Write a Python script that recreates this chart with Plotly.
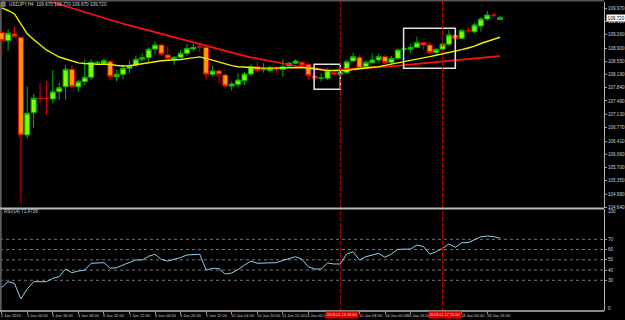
import plotly.graph_objects as go

# ---------------- data ----------------
bar_idx = list(range(79))
opens = [109.316,109.102,109.281,109.193,106.577,107.174,107.559,107.560,107.541,107.736,
         107.870,108.336,107.870,108.004,108.122,108.518,108.497,108.539,108.138,108.202,
         108.363,108.451,108.604,108.647,108.880,108.987,108.719,108.612,108.657,108.765,
         108.880,108.935,108.925,108.202,108.291,108.183,107.889,107.934,108.031,108.210,
         108.406,108.325,108.299,108.340,108.336,108.424,108.497,108.523,108.470,108.157,
         108.100,108.095,108.245,108.202,108.245,108.558,108.657,108.406,108.513,108.585,
         108.674,108.513,108.631,108.874,108.872,108.925,109.048,108.987,108.781,108.872,
         109.006,109.247,109.166,109.372,109.343,109.495,109.683,109.792,109.670]
highs = [109.389,109.407,109.477,109.209,107.870,107.675,107.977,108.023,108.317,107.977,
         108.451,108.451,108.068,108.604,108.604,108.558,108.631,108.585,108.317,108.451,
         108.566,108.692,108.765,108.925,109.094,109.032,108.960,108.692,108.853,109.014,
         109.014,108.987,108.941,108.424,108.317,108.245,108.004,108.229,108.272,108.470,
         108.539,108.497,108.424,108.406,108.604,108.539,108.604,108.558,108.497,108.183,
         108.229,108.363,108.317,108.317,108.585,108.781,108.719,108.585,108.765,108.746,
         108.719,108.692,108.898,108.941,109.014,109.209,109.075,109.067,108.898,109.075,
         109.389,109.281,109.415,109.477,109.584,109.729,109.897,109.836,109.770]
lows = [108.719,108.826,109.193,104.755,106.488,106.756,107.426,107.112,107.426,107.514,
        107.514,107.827,107.736,107.916,108.050,108.478,108.451,108.068,108.004,108.068,
        108.229,108.406,108.539,108.539,108.738,108.692,108.604,108.451,108.631,108.692,
        108.807,108.791,108.050,108.157,107.961,107.854,107.763,107.854,107.916,108.157,
        108.272,108.245,108.245,108.229,108.138,108.363,108.478,108.424,108.068,108.050,
        108.004,108.050,108.183,108.157,108.210,108.539,108.336,108.363,108.497,108.539,
        108.478,108.478,108.585,108.834,108.781,108.898,108.853,108.719,108.746,108.834,
        108.960,109.121,109.140,109.281,109.300,109.343,109.638,109.702,109.670]
closes = [109.102,109.300,109.209,106.577,107.158,107.559,107.550,107.552,107.736,107.843,
          108.336,107.870,108.004,108.122,108.523,108.523,108.566,108.138,108.202,108.363,
          108.432,108.604,108.647,108.871,108.987,108.738,108.631,108.657,108.765,108.898,
          108.925,108.930,108.202,108.291,108.202,107.889,107.942,108.050,108.210,108.406,
          108.299,108.331,108.363,108.336,108.406,108.497,108.558,108.451,108.165,108.103,
          108.106,108.299,108.202,108.245,108.539,108.674,108.363,108.523,108.585,108.674,
          108.513,108.631,108.853,108.880,108.925,109.048,108.987,108.781,108.872,109.014,
          109.254,109.156,109.370,109.368,109.522,109.683,109.790,109.788,109.720]
ma_fast = [109.978,109.911,109.817,109.549,109.287,109.134,109.006,108.853,108.759,108.665,
           108.612,108.553,108.507,108.491,108.473,108.470,108.470,108.467,108.438,108.424,
           108.432,108.462,108.494,108.521,108.548,108.566,108.577,108.582,108.599,108.623,
           108.647,108.668,108.628,108.577,108.526,108.478,108.435,108.403,108.390,108.379,
           108.371,108.366,108.366,108.371,108.376,108.379,108.387,108.384,108.371,108.350,
           108.317,108.299,108.299,108.299,108.304,108.331,108.355,108.376,108.390,108.406,
           108.438,108.467,108.505,108.545,108.577,108.607,108.639,108.674,108.711,108.746,
           108.778,108.807,108.861,108.907,108.955,109.027,109.089,109.134,109.193]
ma_slow = [110.567,110.500,110.446,110.393,110.339,110.286,110.232,110.179,110.125,110.074,
           110.023,109.970,109.916,109.865,109.814,109.763,109.710,109.651,109.603,109.555,
           109.512,109.466,109.421,109.375,109.330,109.281,109.236,109.190,109.142,109.094,
           109.049,109.003,108.955,108.912,108.866,108.824,108.781,108.738,108.695,108.657,
           108.623,108.588,108.556,108.524,108.491,108.454,108.424,108.408,108.387,108.355,
           108.328,108.317,108.317,108.323,108.339,108.355,108.363,108.371,108.382,108.392,
           108.403,108.416,108.430,108.446,108.462,108.478,108.489,108.499,108.516,108.529,
           108.542,108.558,108.577,108.596,108.612,108.633,108.655,108.674,108.692]
rsi = [23.0,28.6,26.9,11.8,21.5,28.6,28.6,28.6,32.0,33.5,
       41.0,37.4,39.0,40.0,46.6,46.9,47.2,41.7,42.3,45.0,
       47.2,49.8,49.8,53.4,55.4,50.3,48.8,50.3,52.2,54.7,
       55.4,55.4,40.0,41.7,41.5,36.1,37.1,40.5,44.9,48.8,
       46.6,46.9,47.1,47.2,49.3,51.3,53.0,50.5,43.0,41.0,
       41.0,46.9,45.9,45.9,55.7,57.9,49.8,53.0,54.7,56.3,
       52.4,55.7,60.2,60.2,60.5,64.4,63.0,55.4,57.9,61.2,
       65.4,62.2,66.7,66.7,69.8,72.5,73.2,72.7,71.0]
rsi_levels = [30, 40, 50, 60, 70]

price_ticks = [104.640,104.990,105.350,105.700,106.060,106.410,106.770,107.130,
               107.490,107.840,108.190,108.550,108.900,109.260,109.610,109.970]
time_tick_idx = [0,4,8,12,16,20,24,28,32,36,40,44,48,52,56,60,64,68,72,76]
time_label_idx = [0,4,8,12,16,20,24,28,32,36,40,44,48,56,60,64,72,76]
time_labels = ["2 Jan 2019","3 Jan 00:00","3 Jan 16:00","4 Jan 08:00","6 Jan 22:00",
               "7 Jan 12:00","8 Jan 04:00","8 Jan 20:00","9 Jan 12:00","10 Jan 04:00",
               "10 Jan 20:00","11 Jan 12:00","14 Jan 00:00","15 Jan 08:00","16 Jan 00:00",
               "16 Jan 16:00","18 Jan 00:00","18 Jan 16:00"]
vline_idx = [53, 69]
vline_labels = ["2019.01.14 20:00", "2019.01.17 12:00"]
# rectangles: (start bar, end bar, top price, bottom price)
rect_x0 = [48.9, 62.9]
rect_x1 = [53.0, 71.0]
rect_top = [108.470, 109.434]
rect_bot = [107.800, 108.363]

title_main = "USDJPY,H4  109.670 109.770 109.670 109.720"
title_rsi = "RSI(14) 71.4738"
last_price = 109.720

FONT = "Liberation Sans"
TXT = "#d0d0d0"
GRAY = "#9a9a9a"

fig = go.Figure()
fig.add_trace(go.Candlestick(
    x=bar_idx, open=opens, high=highs, low=lows, close=closes,
    increasing=dict(line=dict(color="#00b400", width=1), fillcolor="#80ff00"),
    decreasing=dict(line=dict(color="#e00000", width=1), fillcolor="#ff9a00"),
    whiskerwidth=0, xaxis="x", yaxis="y", hoverinfo="skip"))
fig.add_trace(go.Scatter(x=bar_idx, y=ma_slow, mode="lines",
                         line=dict(color="#ff1010", width=1.7), xaxis="x", yaxis="y", hoverinfo="skip"))
fig.add_trace(go.Scatter(x=bar_idx, y=ma_fast, mode="lines",
                         line=dict(color="#f0f000", width=1.4), xaxis="x", yaxis="y", hoverinfo="skip"))
fig.add_trace(go.Scatter(x=bar_idx, y=rsi, mode="lines",
                         line=dict(color="#8fd0f0", width=1), xaxis="x", yaxis="y2", hoverinfo="skip"))

shapes = []
# rsi levels
for lv in rsi_levels:
    shapes.append(dict(type="line", xref="paper", yref="y2", x0=0, x1=1, y0=lv, y1=lv,
                       line=dict(color="#767676", width=1, dash="dot"), layer="below"))
# rectangles
for a, b, t, bt in zip(rect_x0, rect_x1, rect_top, rect_bot):
    shapes.append(dict(type="rect", xref="x", yref="y", x0=a, x1=b, y0=bt, y1=t,
                       line=dict(color="#e4e4e4", width=1.5)))
# vertical red dashed lines
for v in vline_idx:
    shapes.append(dict(type="line", xref="x", yref="paper", x0=v, x1=v, y0=0, y1=1.01,
                       line=dict(color="#cc0000", width=1, dash="4px,2px")))
# frame lines
sep_y = 0.3317
shapes += [
    dict(type="line", xref="paper", yref="paper", x0=0, x1=1, y0=sep_y, y1=sep_y,
         line=dict(color="#b8b8b8", width=2)),
    dict(type="line", xref="paper", yref="paper", x0=0, x1=1, y0=0, y1=0,
         line=dict(color="#b8b8b8", width=1.5)),
    dict(type="line", xref="paper", yref="paper", x0=0, x1=1.0, y0=1.004, y1=1.004,
         line=dict(color="#555555", width=1.5)),
    dict(type="line", xref="paper", yref="paper", x0=0.0012, x1=0.0012, y0=0, y1=1,
         line=dict(color="#5a5a5a", width=2), layer="below"),
    dict(type="rect", xref="paper", yref="paper", x0=0.003, x1=0.0085, y0=0.986, y1=1.0,
         line=dict(color="#bbbbbb", width=0.6), fillcolor="#666666"),
]

ann = []
ann.append(dict(x=0.011, y=0.9935, xref="paper", yref="paper", text=title_main,
                showarrow=False, xanchor="left", yanchor="middle",
                font=dict(family=FONT, size=4.6, color=TXT)))
ann.append(dict(x=0.004, y=0.3205, xref="paper", yref="paper", text=title_rsi,
                showarrow=False, xanchor="left", yanchor="middle",
                font=dict(family=FONT, size=4.6, color=TXT)))
for i, t in zip(time_label_idx, time_labels):
    shift = -4.5 if (i + 5) in vline_idx else -1.5
    ann.append(dict(x=i, y=-0.0145, xref="x", yref="paper", text=t, showarrow=False,
                    xanchor="left", yanchor="middle", xshift=shift, borderpad=0,
                    font=dict(family=FONT, size=4.0, color="#c8c8c8")))
for v, t in zip(vline_idx, vline_labels):
    ann.append(dict(x=v, y=-0.0145, xref="x", yref="paper", text=t, showarrow=False,
                    xanchor="center", yanchor="middle", xshift=2, bgcolor="#d80000",
                    borderpad=0.4, font=dict(family=FONT, size=3.9, color="#ffd8d8")))
ann.append(dict(x=1.0, y=last_price, xref="paper", yref="y", text=f"{last_price:.3f}",
                showarrow=False, xanchor="left", yanchor="middle", xshift=2, bgcolor="#ffffff",
                borderpad=0.6, font=dict(family=FONT, size=4.6, color="#000000")))
ann.append(dict(x=1.0, y=97.3, xref="paper", yref="y2", text="100", showarrow=False,
                xanchor="left", yanchor="middle", xshift=2,
                font=dict(family=FONT, size=4.6, color=TXT)))
ann.append(dict(x=1.0, y=2.3, xref="paper", yref="y2", text="0", showarrow=False,
                xanchor="left", yanchor="middle", xshift=2,
                font=dict(family=FONT, size=4.6, color=TXT)))

fig.update_layout(
    width=625, height=320, margin=dict(l=0, r=19, t=2, b=9),
    paper_bgcolor="#000000", plot_bgcolor="#000000", showlegend=False,
    font=dict(family=FONT, size=4.6, color=TXT),
    boxgap=0.22, boxgroupgap=0.0,
    xaxis=dict(range=[-0.265, 94.27], anchor="y2", showgrid=False, zeroline=False,
               tickvals=time_tick_idx, showticklabels=False, ticks="outside", ticklen=2,
               tickcolor=GRAY, rangeslider=dict(visible=False), fixedrange=True),
    yaxis=dict(domain=[0.3333, 1.0], range=[104.621, 110.138], side="right", anchor="x",
               showgrid=False, zeroline=False, tickvals=price_ticks,
               ticktext=[f"{p:.3f}" for p in price_ticks], ticks="outside", ticklen=2,
               tickcolor=GRAY, showline=True, linecolor="#b0b0b0", linewidth=1,
               tickfont=dict(family=FONT, size=4.6, color=TXT), fixedrange=True),
    yaxis2=dict(domain=[0.0, 0.3301], range=[0, 99.6], side="right", anchor="x",
                showgrid=False, zeroline=False, tickvals=rsi_levels,
                ticks="outside", ticklen=2, tickcolor=GRAY, showline=True,
                linecolor="#b0b0b0", linewidth=1,
                tickfont=dict(family=FONT, size=4.6, color=TXT), fixedrange=True),
    shapes=shapes, annotations=ann,
)

fig.write_html("out.html")
